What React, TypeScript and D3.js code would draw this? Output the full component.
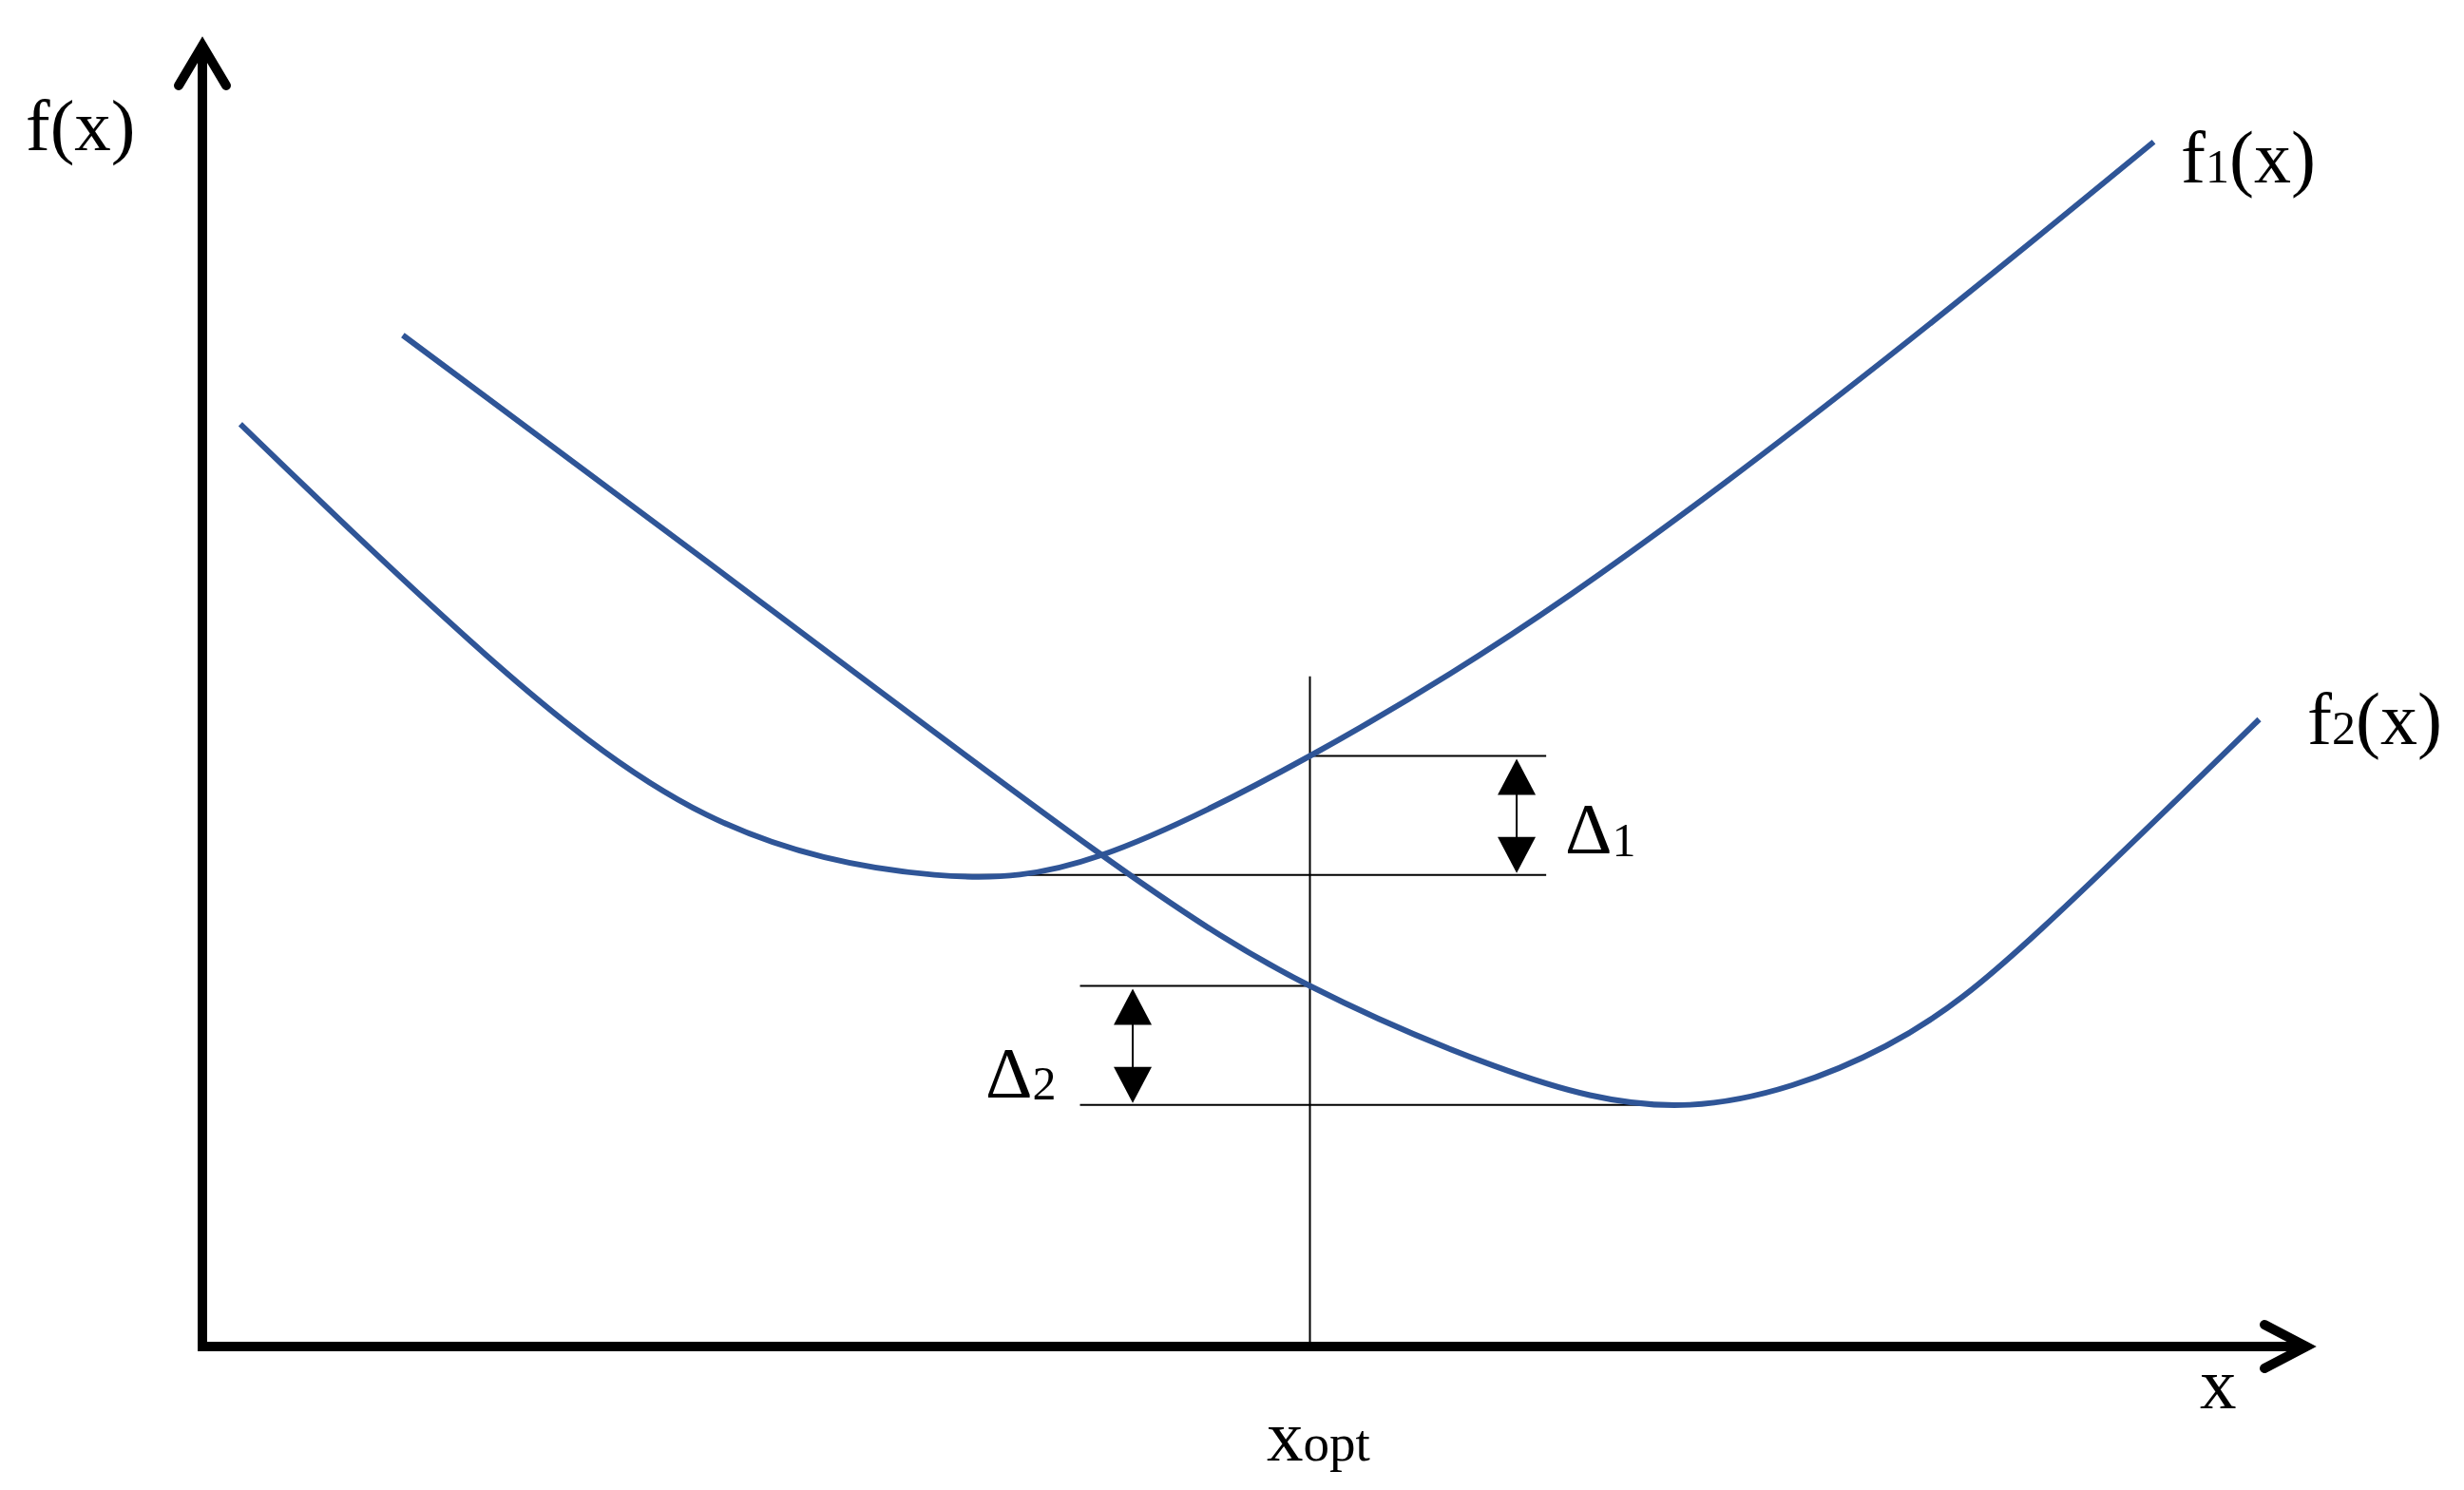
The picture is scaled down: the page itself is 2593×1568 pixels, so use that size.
import React from "react";
import * as d3 from "d3";

// Curve data (abstract units: x 0..10 along the axis, y 0..10 up the axis)
const f1X = [0.18, 1.27, 2.39, 3.47, 4.26, 5.25, 6.49, 7.98, 9.25];
const f1Y = [7.06, 5.4, 4.07, 3.61, 3.76, 4.52, 5.76, 7.56, 9.22];
const f2X = [0.95, 2.39, 4.23, 5.25, 6.12, 7.05, 7.98, 8.72, 9.75];
const f2Y = [7.74, 6.01, 3.8, 2.76, 2.15, 1.85, 2.3, 3.2, 4.8];

// Annotation values
const xOpt = 5.25;
const xOptLineTop = 5.13;
const f1AtOpt = 4.52;
const f1Min = 3.61;
const f1MinX = 3.47;
const f2AtOpt = 2.76;
const f2Min = 1.85;
const f2MinX = 7.09;
const delta1LineEnd = 6.37;
const delta1ArrowX = 6.23;
const delta2LineStart = 4.16;
const delta2ArrowX = 4.41;

const W = 2593;
const H = 1568;
const BLUE = "#2F5597";
const FONT = "'Liberation Serif', 'Times New Roman', serif";

export default function App() {
  const x = d3.scaleLinear().domain([0, 10]).range([213, 2433]);
  const y = d3.scaleLinear().domain([0, 10]).range([1417, 42]);

  const line = d3
    .line<[number, number]>()
    .x((d) => x(d[0]))
    .y((d) => y(d[1]))
    .curve(d3.curveNatural);

  const f1 = f1X.map((v, i) => [v, f1Y[i]] as [number, number]);
  const f2 = f2X.map((v, i) => [v, f2Y[i]] as [number, number]);

  const x0 = x(0);
  const y0 = y(0);
  const xEnd = x(10) - 6;
  const yEnd = y(10) + 6;

  const tri = (cx: number, tipY: number, dir: number) => {
    const w = 20;
    const h = 38;
    return `M${cx},${tipY} L${cx - w},${tipY + dir * h} L${cx + w},${tipY + dir * h} Z`;
  };

  const thin = { stroke: "#000", strokeWidth: 2, fill: "none" };

  return (
    <svg
      width={W}
      height={H}
      style={{ position: "absolute", left: 0, top: 0, display: "block", background: "#fff" }}
    >
      <rect x={0} y={0} width={W} height={H} fill="#fff" />

      {/* xopt vertical */}
      <line x1={x(xOpt)} x2={x(xOpt)} y1={y(xOptLineTop)} y2={y0} {...thin} />

      {/* delta 1 lines */}
      <line x1={x(xOpt)} x2={x(delta1LineEnd)} y1={y(f1AtOpt)} y2={y(f1AtOpt)} {...thin} />
      <line x1={x(f1MinX)} x2={x(delta1LineEnd)} y1={y(f1Min)} y2={y(f1Min)} {...thin} />
      <line x1={x(delta1ArrowX)} x2={x(delta1ArrowX)} y1={y(f1AtOpt) + 20} y2={y(f1Min) - 20} {...thin} />
      <path d={tri(x(delta1ArrowX), y(f1AtOpt) + 3, 1)} fill="#000" />
      <path d={tri(x(delta1ArrowX), y(f1Min) - 2, -1)} fill="#000" />

      {/* delta 2 lines */}
      <line x1={x(delta2LineStart)} x2={x(xOpt)} y1={y(f2AtOpt)} y2={y(f2AtOpt)} {...thin} />
      <line x1={x(delta2LineStart)} x2={x(f2MinX)} y1={y(f2Min)} y2={y(f2Min)} {...thin} />
      <line x1={x(delta2ArrowX)} x2={x(delta2ArrowX)} y1={y(f2AtOpt) + 20} y2={y(f2Min) - 20} {...thin} />
      <path d={tri(x(delta2ArrowX), y(f2AtOpt) + 3, 1)} fill="#000" />
      <path d={tri(x(delta2ArrowX), y(f2Min) - 2, -1)} fill="#000" />

      {/* curves */}
      <path d={line(f1) || ""} fill="none" stroke={BLUE} strokeWidth={6} strokeLinecap="butt" />
      <path d={line(f2) || ""} fill="none" stroke={BLUE} strokeWidth={6} strokeLinecap="butt" />

      {/* axes */}
      <line x1={x0} x2={x0} y1={y0 + 5} y2={yEnd} stroke="#000" strokeWidth={10} />
      <line x1={x0 - 5} x2={xEnd} y1={y0} y2={y0} stroke="#000" strokeWidth={10} />
      <polyline
        points={`${x0 - 25},${yEnd + 42} ${x0},${yEnd} ${x0 + 25},${yEnd + 42}`}
        fill="none"
        stroke="#000"
        strokeWidth={10}
        strokeLinecap="round"
        strokeLinejoin="miter"
      />
      <polyline
        points={`${xEnd - 44},${y0 - 23} ${xEnd},${y0} ${xEnd - 44},${y0 + 23}`}
        fill="none"
        stroke="#000"
        strokeWidth={10}
        strokeLinecap="round"
        strokeLinejoin="miter"
      />

      {/* labels */}
      <g fontFamily={FONT} fill="#000">
        <text x={27} y={158} fontSize={77}>f(x)</text>
        <text x={2295} y={192} fontSize={78}>
          f<tspan fontSize={50}>1</tspan>(x)
        </text>
        <text x={2428} y={783} fontSize={78}>
          f<tspan fontSize={50}>2</tspan>(x)
        </text>
        <text x={1647} y={898} fontSize={77}>
          Δ<tspan fontSize={50} dy={3}>1</tspan>
        </text>
        <text x={1037} y={1155} fontSize={77}>
          Δ<tspan fontSize={50} dy={2}>2</tspan>
        </text>
        <text x={1333} y={1537} fontSize={77}>
          x<tspan fontSize={55}>opt</tspan>
        </text>
        <text x={2315} y={1482} fontSize={77}>x</text>
      </g>
    </svg>
  );
}
